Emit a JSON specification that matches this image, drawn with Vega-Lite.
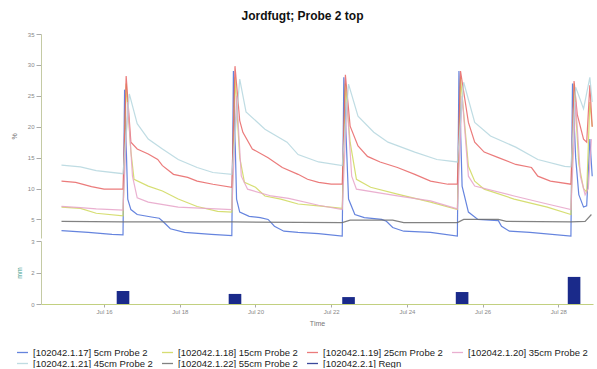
{
  "$schema": "https://vega.github.io/schema/vega-lite/v6.json",
  "padding": {"left": 10, "top": 10, "right": 2, "bottom": 0},
  "background": "white",
  "title": {"text": "Jordfugt; Probe 2 top", "fontSize": 12, "fontWeight": "bold", "color": "#111", "anchor": "middle", "offset": 8, "font": "Liberation Sans"},
  "spacing": -1,
  "config": {
    "font": "Liberation Sans",
    "view": {"stroke": null},
    "axis": {"labelFontSize": 6, "labelColor": "#888", "tickColor": "#aaa", "domainColor": "#c4caa4", "titleFontSize": 7, "titleColor": "#777", "titleFontWeight": "normal", "grid": false}
  },
  "vconcat": [
    {
      "width": 552,
      "height": 204,
      "data": {"values": [
        {"t": "2014-07-14T21:00", "a": 3.2, "b": 7.0, "c": 11.2, "d": 7.1, "e": 13.8, "f": 4.7},
        {"t": "2014-07-15T06:00", "c": 11.0},
        {"t": "2014-07-15T09:00", "b": 6.8, "d": 6.9, "e": 13.5},
        {"t": "2014-07-15T14:00", "a": 2.9},
        {"t": "2014-07-15T16:00", "c": 10.3},
        {"t": "2014-07-15T19:00", "b": 6.0, "d": 6.7, "e": 12.9},
        {"t": "2014-07-16T00:00", "c": 9.9},
        {"t": "2014-07-16T05:00", "a": 2.6},
        {"t": "2014-07-16T12:00", "a": 2.5, "b": 5.6, "c": 9.9, "d": 6.5, "e": 12.4, "f": 4.6},
        {"t": "2014-07-16T13:00", "a": 26},
        {"t": "2014-07-16T14:00", "b": 27, "c": 28.2},
        {"t": "2014-07-16T15:00", "a": 8.3, "d": 24},
        {"t": "2014-07-16T16:00", "e": 25.3},
        {"t": "2014-07-16T17:00", "a": 6.6, "b": 16, "c": 17.5},
        {"t": "2014-07-16T18:00", "d": 12},
        {"t": "2014-07-16T19:00", "b": 11.5},
        {"t": "2014-07-16T21:00", "a": 5.8, "c": 16.4, "d": 8.5, "e": 20.5},
        {"t": "2014-07-17T04:00", "b": 10.4, "c": 15.6, "d": 7.8, "e": 18},
        {"t": "2014-07-17T06:00", "a": 5.4},
        {"t": "2014-07-17T10:00", "c": 14.7},
        {"t": "2014-07-17T11:00", "a": 5.2},
        {"t": "2014-07-17T13:00", "b": 9.6, "c": 13.7, "e": 16.4},
        {"t": "2014-07-17T14:00", "a": 4.5},
        {"t": "2014-07-17T18:00", "a": 3.5},
        {"t": "2014-07-17T20:00", "c": 12.3},
        {"t": "2014-07-17T23:00", "b": 8.3, "d": 7.0, "e": 14.7},
        {"t": "2014-07-18T03:00", "a": 2.9},
        {"t": "2014-07-18T05:00", "c": 11.8},
        {"t": "2014-07-18T11:00", "b": 7.1, "c": 11.2, "e": 13.4},
        {"t": "2014-07-18T20:00", "a": 2.6},
        {"t": "2014-07-18T21:00", "c": 10.7, "e": 12.6},
        {"t": "2014-07-19T00:00", "b": 6.3},
        {"t": "2014-07-19T09:00", "a": 2.4, "b": 6.2, "c": 10.2, "d": 6.6, "e": 12.3, "f": 4.6},
        {"t": "2014-07-19T10:00", "a": 29},
        {"t": "2014-07-19T11:00", "b": 28, "c": 29.8},
        {"t": "2014-07-19T12:00", "a": 8.3, "d": 25},
        {"t": "2014-07-19T14:00", "a": 6.2, "b": 15, "c": 21, "e": 27.7},
        {"t": "2014-07-19T15:00", "d": 12},
        {"t": "2014-07-19T16:00", "c": 19.1},
        {"t": "2014-07-19T17:00", "b": 11},
        {"t": "2014-07-19T18:00", "e": 22.4},
        {"t": "2014-07-19T19:00", "d": 9.9},
        {"t": "2014-07-19T20:00", "a": 5.5},
        {"t": "2014-07-19T22:00", "c": 16.4},
        {"t": "2014-07-20T00:00", "b": 10.2},
        {"t": "2014-07-20T03:00", "a": 5.3},
        {"t": "2014-07-20T06:00", "b": 8.8, "e": 19.6},
        {"t": "2014-07-20T08:00", "a": 5.0, "c": 15.0},
        {"t": "2014-07-20T10:00", "d": 8.8},
        {"t": "2014-07-20T12:00", "a": 3.9},
        {"t": "2014-07-20T16:00", "b": 8.3},
        {"t": "2014-07-20T17:00", "c": 13.4},
        {"t": "2014-07-20T18:00", "a": 3.1},
        {"t": "2014-07-20T20:00", "e": 17.5},
        {"t": "2014-07-20T21:00", "d": 8.4},
        {"t": "2014-07-21T03:00", "a": 2.9, "b": 7.5, "c": 12.3, "e": 15.5},
        {"t": "2014-07-21T09:00", "c": 11.5},
        {"t": "2014-07-21T16:00", "a": 2.7, "b": 7.2, "c": 11.0, "d": 7.3, "e": 14.3},
        {"t": "2014-07-22T00:00", "c": 10.7},
        {"t": "2014-07-22T07:00", "a": 2.3, "b": 6.8, "c": 10.7, "d": 6.6, "e": 13.7, "f": 4.5},
        {"t": "2014-07-22T08:00", "a": 28},
        {"t": "2014-07-22T09:00", "b": 27, "c": 28.4},
        {"t": "2014-07-22T10:00", "d": 24},
        {"t": "2014-07-22T11:00", "a": 8.3, "e": 26.9},
        {"t": "2014-07-22T12:00", "b": 17.5, "c": 20.1, "f": 4.9},
        {"t": "2014-07-22T13:00", "d": 12},
        {"t": "2014-07-22T15:00", "a": 5.8},
        {"t": "2014-07-22T16:00", "b": 11.5, "d": 9.9},
        {"t": "2014-07-22T17:00", "c": 16.9, "e": 21.7},
        {"t": "2014-07-22T21:00", "a": 5.3},
        {"t": "2014-07-22T23:00", "c": 15.2},
        {"t": "2014-07-23T01:00", "b": 10.2},
        {"t": "2014-07-23T03:00", "e": 19.1},
        {"t": "2014-07-23T07:00", "c": 14.3},
        {"t": "2014-07-23T08:00", "a": 5.0},
        {"t": "2014-07-23T11:00", "a": 4.7},
        {"t": "2014-07-23T12:00", "e": 17.5},
        {"t": "2014-07-23T15:00", "a": 3.7, "f": 4.9},
        {"t": "2014-07-23T18:00", "b": 9.1, "c": 13.4, "d": 8.8},
        {"t": "2014-07-23T22:00", "a": 3.1, "f": 4.5},
        {"t": "2014-07-24T05:00", "c": 12.3, "e": 15.9},
        {"t": "2014-07-24T15:00", "a": 2.9, "b": 7.8, "c": 11.2, "d": 8.0},
        {"t": "2014-07-24T19:00", "e": 14.7},
        {"t": "2014-07-25T02:00", "c": 10.7},
        {"t": "2014-07-25T08:00", "a": 2.3, "b": 6.6, "c": 10.7, "d": 6.7, "e": 14.3, "f": 4.5},
        {"t": "2014-07-25T09:00", "a": 29},
        {"t": "2014-07-25T10:00", "b": 28, "c": 29},
        {"t": "2014-07-25T11:00", "a": 10.4, "d": 25},
        {"t": "2014-07-25T12:00", "e": 27.2, "f": 5.0},
        {"t": "2014-07-25T15:00", "a": 6.2, "b": 13.6, "c": 20.7, "d": 12},
        {"t": "2014-07-25T19:00", "b": 11.2, "c": 17.5, "d": 10.4, "e": 20.7},
        {"t": "2014-07-25T21:00", "a": 5.0},
        {"t": "2014-07-26T01:00", "b": 9.9, "c": 15.9},
        {"t": "2014-07-26T05:00", "e": 18.5},
        {"t": "2014-07-26T10:00", "a": 4.8, "c": 15.0, "f": 5.0},
        {"t": "2014-07-26T12:00", "a": 3.9},
        {"t": "2014-07-26T15:00", "f": 4.7},
        {"t": "2014-07-26T17:00", "a": 3.1},
        {"t": "2014-07-26T20:00", "b": 8.3, "d": 8.8},
        {"t": "2014-07-26T21:00", "c": 13.9, "e": 16.7},
        {"t": "2014-07-27T06:00", "a": 2.9},
        {"t": "2014-07-27T07:00", "c": 13.4},
        {"t": "2014-07-27T11:00", "c": 12.0, "e": 14.7},
        {"t": "2014-07-27T17:00", "b": 7.0, "d": 7.5},
        {"t": "2014-07-27T19:00", "c": 11.2},
        {"t": "2014-07-28T04:00", "e": 13.6},
        {"t": "2014-07-28T08:00", "a": 2.3, "b": 5.8, "c": 10.7, "d": 6.6, "e": 13.5, "f": 4.6},
        {"t": "2014-07-28T09:00", "a": 27},
        {"t": "2014-07-28T10:00", "b": 27, "c": 27.4},
        {"t": "2014-07-28T11:00", "a": 15, "d": 24, "e": 26.4},
        {"t": "2014-07-28T12:00", "c": 22},
        {"t": "2014-07-28T13:00", "a": 9, "b": 14},
        {"t": "2014-07-28T14:00", "d": 12},
        {"t": "2014-07-28T16:00", "a": 7.0, "b": 10, "c": 18, "e": 22.9},
        {"t": "2014-07-28T17:00", "d": 9, "f": 4.7},
        {"t": "2014-07-28T18:00", "a": 7.2, "b": 9.4, "c": 17.5},
        {"t": "2014-07-28T19:00", "d": 10},
        {"t": "2014-07-28T20:00", "a": 18, "b": 24, "c": 26.7, "e": 28},
        {"t": "2014-07-28T21:00", "d": 18, "f": 5.8},
        {"t": "2014-07-28T21:30", "a": 12, "b": 20, "c": 20, "e": 24}
      ]},
      "transform": [
        {"fold": ["a", "b", "c", "d", "e", "f"], "as": ["k", "v"]},
        {"filter": "isValid(datum.v)"},
        {"lookup": "k", "from": {"data": {"values": [
          {"k": "a", "name": "[102042.1.17] 5cm Probe 2"},
          {"k": "b", "name": "[102042.1.18] 15cm Probe 2"},
          {"k": "c", "name": "[102042.1.19] 25cm Probe 2"},
          {"k": "d", "name": "[102042.1.20] 35cm Probe 2"},
          {"k": "e", "name": "[102042.1.21] 45cm Probe 2"},
          {"k": "f", "name": "[102042.1.22] 55cm Probe 2"}
        ]}, "key": "k", "fields": ["name"]}}
      ],
      "mark": {"type": "line", "strokeWidth": 1.2, "opacity": 0.85},
      "encoding": {
        "x": {"field": "t", "type": "temporal", "scale": {"domain": [{"year": 2014, "month": 7, "date": 14, "hours": 8}, {"year": 2014, "month": 7, "date": 28, "hours": 22}]}, "axis": null},
        "y": {"field": "v", "type": "quantitative", "scale": {"domain": [2, 35], "nice": false, "zero": false}, "axis": {"values": [5, 10, 15, 20, 25, 30, 35], "title": "%", "tickSize": 5, "labelPadding": 2, "titlePadding": 10}},
        "color": {"field": "name", "type": "nominal",
          "scale": {"domain": ["[102042.1.17] 5cm Probe 2", "[102042.1.18] 15cm Probe 2", "[102042.1.19] 25cm Probe 2", "[102042.1.20] 35cm Probe 2", "[102042.1.21] 45cm Probe 2", "[102042.1.22] 55cm Probe 2", "[102042.2.1] Regn"],
                    "range": ["#4a6fd8", "#cfd85a", "#e86464", "#e6a2c8", "#b4d6de", "#6c6c6c", "#1a2a8a"]},
          "legend": {"orient": "none", "legendX": -25, "legendY": 312, "direction": "horizontal", "columns": 4, "columnPadding": 6, "rowPadding": 0, "labelFontSize": 9.5, "labelColor": "#222", "labelLimit": 0, "title": null, "symbolSize": 121, "symbolStrokeWidth": 1.3,
            "encode": {"symbols": {"update": {
              "shape": [{"test": "datum.value === '[102042.2.1] Regn'", "value": "M-1,-0.6H1V0.6H-1Z"}, {"value": "stroke"}],
              "size": [{"test": "datum.value === '[102042.2.1] Regn'", "value": 100}, {"value": 121}],
              "fill": [{"test": "datum.value === '[102042.2.1] Regn'", "value": "#1a2a8a"}, {"value": "transparent"}],
              "stroke": {"scale": "color", "field": "value"},
              "strokeWidth": {"value": 1.3},
              "opacity": {"value": 1}
            }}}}
        }
      }
    },
    {
      "width": 552,
      "height": 63,
      "data": {"values": [
        {"t": "2014-07-16T08:00", "t2": "2014-07-16T16:00", "v": 0.62, "name": "[102042.2.1] Regn"},
        {"t": "2014-07-19T07:00", "t2": "2014-07-19T15:00", "v": 0.48, "name": "[102042.2.1] Regn"},
        {"t": "2014-07-22T07:00", "t2": "2014-07-22T15:00", "v": 0.33, "name": "[102042.2.1] Regn"},
        {"t": "2014-07-25T07:00", "t2": "2014-07-25T15:00", "v": 0.57, "name": "[102042.2.1] Regn"},
        {"t": "2014-07-28T06:00", "t2": "2014-07-28T14:00", "v": 1.29, "name": "[102042.2.1] Regn"}
      ]},
      "mark": {"type": "bar"},
      "encoding": {
        "x": {"field": "t", "type": "temporal", "scale": {"domain": [{"year": 2014, "month": 7, "date": 14, "hours": 8}, {"year": 2014, "month": 7, "date": 28, "hours": 22}]},
          "axis": {"values": [{"year": 2014, "month": 7, "date": 16}, {"year": 2014, "month": 7, "date": 18}, {"year": 2014, "month": 7, "date": 20}, {"year": 2014, "month": 7, "date": 22}, {"year": 2014, "month": 7, "date": 24}, {"year": 2014, "month": 7, "date": 26}, {"year": 2014, "month": 7, "date": 28}],
                   "format": "%b %d", "title": "Time", "tickSize": 3, "labelPadding": 1, "titlePadding": 5, "domainColor": "#c2d080"}},
        "x2": {"field": "t2"},
        "y": {"field": "v", "type": "quantitative", "scale": {"domain": [0, 3], "nice": false}, "axis": {"values": [0, 1.5, 3], "title": "mm", "titleColor": "#3a9a8a", "tickSize": 5, "labelPadding": 2, "titlePadding": 8}},
        "y2": {"datum": 0},
        "color": {"field": "name", "type": "nominal",
          "scale": {"domain": ["[102042.1.17] 5cm Probe 2", "[102042.1.18] 15cm Probe 2", "[102042.1.19] 25cm Probe 2", "[102042.1.20] 35cm Probe 2", "[102042.1.21] 45cm Probe 2", "[102042.1.22] 55cm Probe 2", "[102042.2.1] Regn"],
                    "range": ["#4a6fd8", "#cfd85a", "#e86464", "#e6a2c8", "#b4d6de", "#6c6c6c", "#1a2a8a"]}
        }
      }
    }
  ]
}
